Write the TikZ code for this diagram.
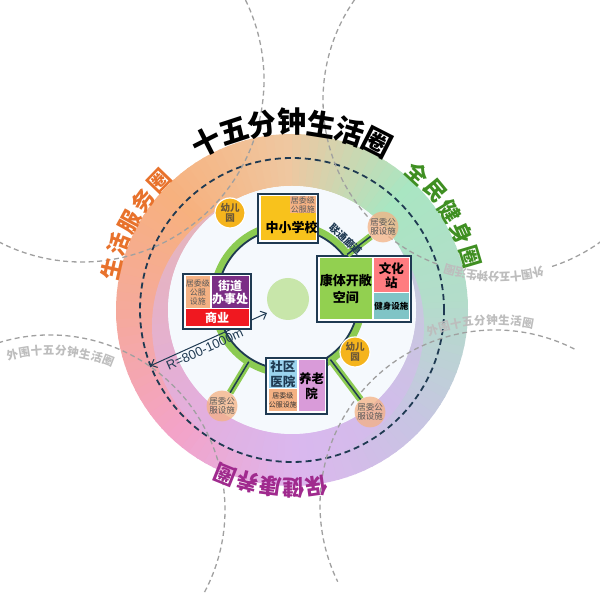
\documentclass[tikz,border=0pt]{standalone}
\usepackage{fontspec}
\setmainfont{Noto Sans CJK SC}
\newfontfamily\latinfont{Liberation Sans}
\usetikzlibrary{calc,arrows.meta}

% colours
\definecolor{navy}{HTML}{1F3A52}
\definecolor{ringgreen}{HTML}{8CCB52}
\definecolor{hubgreen}{HTML}{C8E6AA}
\definecolor{schoolyellow}{HTML}{F8C21C}
\definecolor{peach}{HTML}{F4B183}
\definecolor{streetpurple}{HTML}{7B2E85}
\definecolor{shopred}{HTML}{F01820}
\definecolor{parkgreen}{HTML}{92D050}
\definecolor{culturepink}{HTML}{FF7C80}
\definecolor{fitteal}{HTML}{80C4C6}
\definecolor{clinicblue}{HTML}{9BD3EE}
\definecolor{elderorchid}{HTML}{D99BD9}
\definecolor{kidyellow}{HTML}{F5B41C}
\definecolor{kidtext}{HTML}{6B5738}
\definecolor{tagtext}{HTML}{5A5A5A}
\definecolor{lifeorange}{HTML}{E8722C}
\definecolor{sportgreen}{HTML}{3F8F22}
\definecolor{carepurple}{HTML}{A02A8E}
\definecolor{ghostgray}{HTML}{A0A0A0}
\definecolor{ghosttext}{HTML}{BDBDBD}
\definecolor{discwhite}{HTML}{F5F9FD}
\definecolor{lavender}{HTML}{D8B9EF}
% ring colours, every 45 degrees
\definecolor{ring0}{HTML}{B4DCCB}
\definecolor{ring1}{HTML}{A9E6C2}
\definecolor{ring2}{HTML}{EFC7A0}
\definecolor{ring3}{HTML}{F7B17E}
\definecolor{ring4}{HTML}{F5A99C}
\definecolor{ring5}{HTML}{F3A3C8}
\definecolor{ring6}{HTML}{DDB6EE}
\definecolor{ring7}{HTML}{C8C4E3}
\definecolor{ring8}{HTML}{B4DCCB}

\tikzset{
  frame/.style = {draw=navy, line width=2pt, fill=white, inner sep=0pt},
  cell/.style = {inner sep=0pt, align=center},
  tag/.style = {font=\fontsize{8}{9}\selectfont, text=tagtext},
  kid/.style = {circle, fill=kidyellow, draw=white, line width=1.2pt, minimum size=30pt,
    inner sep=0pt, align=center, text=kidtext, font=\fontsize{9.5}{10.5}\selectfont\bfseries},
  facility/.style = {circle, fill=peach, fill opacity=0.75, text opacity=1, minimum size=26pt,
    inner sep=0pt, align=center, text=tagtext, font=\fontsize{8.5}{9.5}\selectfont},
  ghost/.style = {draw=ghostgray, line width=1.3pt, dash pattern=on 5pt off 3.5pt},
  bigchar/.style = {inner sep=0pt, font=\fontsize{29}{29}\selectfont\bfseries},
  ringchar/.style = {inner sep=0pt, font=\fontsize{22}{22}\selectfont\bfseries},
  ghostchar/.style = {inner sep=0pt, text=ghosttext, font=\fontsize{11.5}{11.5}\selectfont\bfseries},
  spoke/.style = {draw=ringgreen, line width=7pt},
  spokeline/.style = {draw=navy, line width=1.5pt},
  rarrow/.style = {draw=navy, line width=1pt, <->, >={Straight Barb[length=5pt,width=9pt]}}
}

\begin{document}
\begin{tikzpicture}[x=1pt,y=1pt]
\useasboundingbox (0,0) rectangle (599,609);
\fill[white] (0,0) rectangle (599,609);
\coordinate (C) at (292,299);
\coordinate (G) at (288,310);
\coordinate (UL) at (82,529);
\coordinate (UR) at (498,509);
\coordinate (LL) at (50,99);
\coordinate (LR) at (495,104);

% colour ring
\foreach \a in {0,3,...,357}{
  \pgfmathtruncatemacro\k{\a/45}
  \pgfmathtruncatemacro\kk{\k+1}
  \pgfmathtruncatemacro\t{(\a-45*\k)*100/45}
  \colorlet{segc}{ring\kk!\t!ring\k}
  \fill[segc] ($(C)+(\a:176)$) arc[start angle=\a, end angle=\a+3.6, radius=176]
    -- ($(C)+(\a+3.6:124)$) arc[start angle=\a+3.6, end angle=\a, radius=124] -- cycle;
}
\fill[lavender, fill opacity=0.55] ($(C)+(-4,-16)$) circle[radius=136];
\fill[discwhite] (C) circle[radius=124];
\draw[navy, line width=1.8pt, dash pattern=on 6pt off 4pt] (C) circle[radius=152];

% neighbouring circles
\draw[ghost] ($(UL)+(240:182)$) arc[start angle=240, end angle=390, radius=182];
\draw[ghost] ($(UR)+(145:175)$) arc[start angle=145, end angle=250, radius=175];
\draw[ghost] ($(UR)+(288:175)$) arc[start angle=288, end angle=330, radius=175];
\draw[ghost] ($(LL)+(110:175)$) arc[start angle=110, end angle=-28, radius=175];
\draw[ghost] ($(LR)+(63:175)$) arc[start angle=63, end angle=206, radius=175];

% inner ring
\draw[ringgreen, line width=8pt] (G) circle[radius=74];
\draw[navy, line width=1.8pt] (G) circle[radius=70.5];
\fill[hubgreen] (G) circle[radius=21];

\coordinate (rA) at ($(C)+(201.5:152)$);
\coordinate (rB) at (267,296);
\draw[rarrow] (rA) -- node[pos=0.44, below, sloped, inner sep=2pt, text=navy,
  font=\latinfont\fontsize{13}{13}\selectfont] (rlabel) {R=800-1000m} (rB);

% boxes
\node[frame, minimum width=60pt, minimum height=49pt] (school) at (288,390.5) {};
\node[cell, fill=schoolyellow, minimum width=55pt, minimum height=44pt] (schoolin) at (288,390.5) {};
\node[cell, tag, fill=peach, minimum width=25.5pt, minimum height=16.5pt] (schooltag) at (302.75,404.25) {居委级\\公服施};
\node[font=\fontsize{13}{13}\selectfont\bfseries, inner sep=0pt] (schooltxt) at (291.5,382) {中小学校};

\node[frame, minimum width=68pt, minimum height=55pt] (street) at (217,307.5) {};
\node[cell, tag, fill=peach, minimum width=24.5pt, minimum height=31.5pt] (streettag) at (197.75,316.75) {居委级\\公服\\设施};
\node[cell, fill=streetpurple, text=white, minimum width=37pt, minimum height=31.5pt,
  font=\fontsize{12}{13.5}\selectfont\bfseries] (streetin) at (230,316.75) {街道\\办事处};
\node[cell, fill=shopred, text=white, minimum width=63pt, minimum height=17pt,
  font=\fontsize{12}{12}\selectfont\bfseries] (shop) at (217,291) {商业};

\node[frame, minimum width=94pt, minimum height=66pt] (park) at (364,320) {};
\node[cell, fill=parkgreen, minimum width=52.5pt, minimum height=61pt,
  font=\fontsize{13}{17}\selectfont\bfseries] (parkin) at (345.75,320) {康体开敞\\空间};
\node[cell, fill=culturepink, minimum width=34.5pt, minimum height=33.5pt,
  font=\fontsize{12.5}{14}\selectfont\bfseries] (culture) at (391.25,333.75) {文化\\站};
\node[cell, fill=fitteal, minimum width=34.5pt, minimum height=26pt,
  font=\fontsize{8.5}{8.5}\selectfont\bfseries] (fitness) at (391.25,302.5) {健身设施};

\node[frame, minimum width=61pt, minimum height=56pt] (care) at (296.5,223) {};
\node[cell, fill=clinicblue, text=navy, minimum width=28.5pt, minimum height=27.5pt,
  font=\fontsize{12.5}{15}\selectfont\bfseries] (clinic) at (282.75,234.75) {社区\\医院};
\node[cell, fill=peach, text=black!80, minimum width=28.5pt, minimum height=22pt,
  font=\fontsize{7}{8.5}\selectfont] (caretag) at (282.75,208.5) {居委级\\公服设施};
\node[cell, fill=elderorchid, minimum width=26pt, minimum height=51pt,
  font=\fontsize{12.5}{15}\selectfont\bfseries] (elder) at (311.5,223) {养老\\院};

% small facilities
\node[kid] (kid1) at (230,396) {幼儿\\园};
\node[kid] (kid2) at (355,257) {幼儿\\园};
\node[facility] (fac1) at (383,382) {居委公\\服设施};
\node[facility] (fac2) at (222,203) {居委公\\服设施};
\node[facility] (fac3) at (370,197) {居委公\\服设施};

\coordinate (sp1) at ($(G)+(37:74)$);
\coordinate (sp2) at ($(G)+(238:74)$);
\coordinate (sp3) at ($(G)+(-55:74)$);
\foreach \s/\f in {sp1/fac1, sp2/fac2, sp3/fac3}{
  \draw[spoke] (\s) -- (\f);
  \draw[spokeline] (\s) -- (\f);
}
\node[font=\fontsize{10}{10}\selectfont\bfseries, text=navy, rotate=-43, inner sep=0pt] (link) at ($(G)+(46:83)$) {联通廊道};

% lettering along the circles
\foreach \ch [count=\i from 0] in {十,五,分,钟,生,活,圈}
  \node[bigchar, rotate=27-9*\i] (tt\i) at ($(C)+(117-9*\i:188)$) {\ch};
\foreach \ch [count=\i from 0] in {生,活,服,务,圈}
  \node[ringchar, text=lifeorange, rotate=77-7.75*\i] (ls\i) at ($(C)+(167-7.75*\i:185)$) {\ch};
\foreach \ch [count=\i from 0] in {全,民,健,身,圈}
  \node[ringchar, text=sportgreen, rotate=-42.6-7.7*\i] (qm\i) at ($(C)+(47.4-7.7*\i:186)$) {\ch};
\foreach \ch [count=\i from 0] in {保,健,康,养,圈}
  \node[ringchar, text=carepurple, rotate=188-7.5*\i] (bj\i) at ($(C)+(278-7.5*\i:178)$) {\ch};
\foreach \ch [count=\i from 0] in {外,围,十,五,分,钟,生,活,圈}{
  \node[ghostchar, rotate=13.6-4.375*\i] (wl\i) at ($(LL)+(103.6-4.375*\i:160)$) {\ch};
  \node[ghostchar, rotate=19.7-3.75*\i] (wr\i) at ($(LR)+(109.7-3.75*\i:185)$) {\ch};
  \node[ghostchar, rotate=193-3.6*\i] (wu\i) at ($(UR)+(283-3.6*\i:177)$) {\ch};
}
\end{tikzpicture}
\end{document}
